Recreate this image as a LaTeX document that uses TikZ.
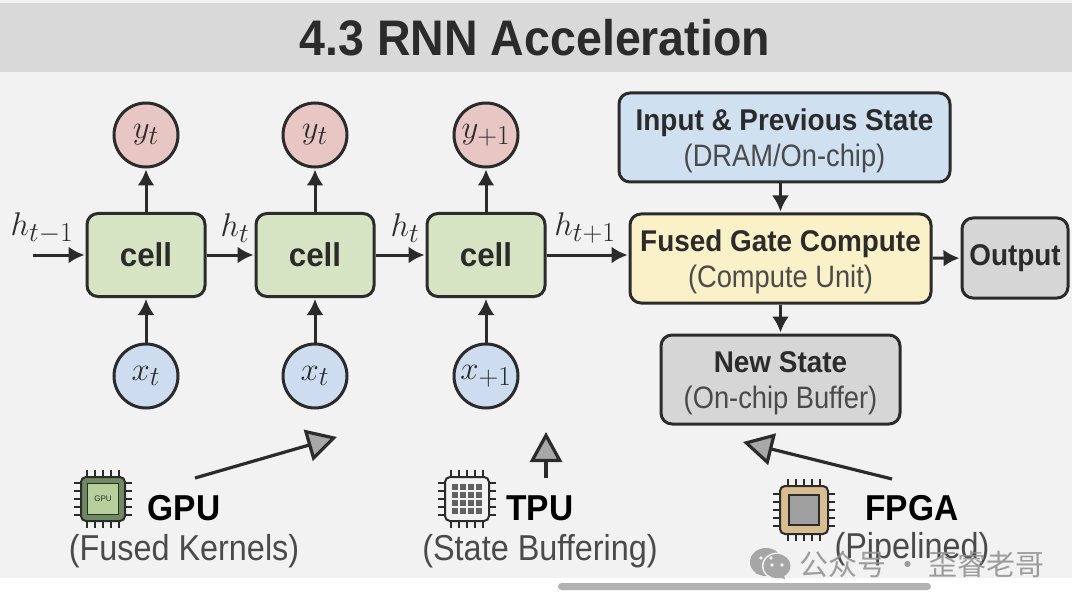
\documentclass[tikz,border=0pt]{standalone}
\usepackage{fontspec}
\setmainfont{Liberation Sans}
\newfontfamily\cjkfont{Noto Sans CJK SC}
\usetikzlibrary{arrows.meta,calc}
\definecolor{panel}{HTML}{F2F2F2}
\definecolor{band}{HTML}{D9D9D9}
\definecolor{ink}{HTML}{2B2B2B}
\definecolor{subink}{HTML}{4A4A4A}
\definecolor{cellfill}{HTML}{D6E4C4}
\definecolor{yfill}{HTML}{E8C6C4}
\definecolor{xfill}{HTML}{CDDDEF}
\definecolor{bluebox}{HTML}{CFE0F0}
\definecolor{yellowbox}{HTML}{FAF1C8}
\definecolor{greybox}{HTML}{D6D6D6}
\definecolor{tipgrey}{HTML}{A8A8A8}
\definecolor{gpuring}{HTML}{6F8A62}
\definecolor{gpucorefill}{HTML}{B7CF9A}
\definecolor{fpgaring}{HTML}{D8BD90}
\newcommand{\bigfont}{\fontsize{30}{36}\selectfont\bfseries\addfontfeature{FakeStretch=0.93}}
\newcommand{\subfont}{\fontsize{31}{36}\selectfont\addfontfeature{FakeStretch=0.88}}
\newcommand{\mth}[1]{\scalebox{1.32}{$#1$}}
\newcommand{\twoline}[2]{\raisebox{-11pt}[0pt][0pt]{\bigfont #1}\\\raisebox{-11pt}[0pt][0pt]{\subfont\color{subink}#2}}
\tikzset{
  x=1pt,y=-1pt,
  box/.style={draw=ink,line width=3pt,rounded corners=11pt,inner sep=0pt,align=center,text=ink,font=\fontsize{30}{36}\selectfont},
  cellbox/.style={box,fill=cellfill,minimum width=118pt,minimum height=83pt,font=\fontsize{33}{36}\selectfont\bfseries\addfontfeature{FakeStretch=0.95}},
  sig/.style={circle,draw=ink,line width=3pt,minimum size=64pt,inner sep=0pt,text=ink,font=\fontsize{30}{32}\selectfont},
  ysig/.style={sig,fill=yfill},
  xsig/.style={sig,fill=xfill},
  flow/.style={draw=ink,line width=3pt,-{Latex[length=16pt,width=17pt]},shorten >=1pt},
  note/.style={draw=ink,line width=3.2pt,-{Triangle[length=30pt,width=32pt,fill=tipgrey]}},
  lab/.style={inner sep=0pt,text=ink,font=\fontsize{30}{32}\selectfont},
  hw/.style={inner sep=0pt,text=black,font=\fontsize{36}{38}\selectfont\bfseries\addfontfeature{FakeStretch=0.93}},
  hwsub/.style={inner sep=0pt,text=subink,font=\fontsize{36}{38}\selectfont\addfontfeature{FakeStretch=0.9}},
}
\newcommand{\chippins}[2]{% centre, half length
  \foreach \d in {-16,-8,0,8,16}{
    \draw[ink,line width=2.2pt] ($(#1)+(\d,-#2)$) -- ($(#1)+(\d,#2)$);
    \draw[ink,line width=2.2pt] ($(#1)+(-#2,\d)$) -- ($(#1)+(#2,\d)$);
  }}
\begin{document}
\begin{tikzpicture}
\useasboundingbox (0,0) rectangle (1080,607);
\fill[white] (0,0) rectangle (1080,607);
\fill[panel] (0,0) rectangle (1072,578);
\fill[band] (0,3) rectangle (1072,72);
\node[inner sep=0pt,text=ink,font=\fontsize{50}{54}\selectfont\bfseries\addfontfeature{FakeStretch=0.93}] (title) at (535,38) {4.3 RNN Acceleration};

% RNN chain
\foreach \n/\cx/\ylab/\xlab in {1/146/y_t/x_t,2/315/y_t/x_t,3/486/y_{+1}/x_{+1}}{
  \node[cellbox] (c\n) at (\cx,255) {cell};
  \node[ysig] (y\n) at (\cx,135) {\mth{\ylab}};
  \node[xsig] (x\n) at (\cx,376) {\mth{\xlab}};
  \draw[flow] (c\n) -- (y\n);
  \draw[flow] (x\n) -- (c\n);
}
\coordinate (hin) at (33,255);
\draw[flow] (hin) -- (c1);
\draw[flow] (c1) -- (c2);
\draw[flow] (c2) -- (c3);
\node[lab] (h0) at (42,228) {\mth{h_{t-1}}};
\node[lab] (h1) at (235,228) {\mth{h_t}};
\node[lab] (h2) at (405,228) {\mth{h_t}};
\node[lab] (h3) at (585,228) {\mth{h_{t+1}}};

% Compute flow
\node[box,fill=bluebox,minimum width=331pt,minimum height=89pt] (input) at (784.5,137.5)
  {\twoline{Input \& Previous State}{(DRAM/On-chip)}};
\node[box,fill=yellowbox,minimum width=301pt,minimum height=89pt] (fused) at (780.5,258.5)
  {\twoline{Fused Gate Compute}{(Compute Unit)}};
\node[box,fill=greybox,minimum width=106pt,minimum height=80pt,font=\bigfont] (output) at (1015,258) {Output};
\node[box,fill=greybox,minimum width=239pt,minimum height=89pt] (newstate) at (780.5,379.5)
  {\twoline{New State}{(On-chip Buffer)}};
\draw[flow] (fused.north |- input.south) -- (fused.north);
\draw[flow] (fused) -- (newstate);
\draw[flow] (fused) -- (output);
\draw[flow] (c3.east) -- (c3.east -| fused.west);

% Hardware labels
\coordinate (gpuA) at (195,478); \coordinate (gpuB) at (337,437);
\coordinate (tpuA) at (546,478); \coordinate (tpuB) at (546,432);
\coordinate (fpgaA) at (892,479); \coordinate (fpgaB) at (743,442);
\draw[note] (gpuA) -- (gpuB);
\draw[note] (tpuA) -- (tpuB);
\draw[note] (fpgaA) -- (fpgaB);

% GPU chip
\coordinate (gpuchip) at (103,499);
\chippins{gpuchip}{29}
\node[draw=ink,line width=2pt,fill=gpuring,rounded corners=5pt,minimum size=44pt,inner sep=0pt] (gpubody) at (gpuchip) {};
\node[draw=ink,line width=1.5pt,fill=gpucorefill,minimum size=31pt,inner sep=0pt,text=ink,font=\fontsize{8}{9}\selectfont] (gpucore) at (gpuchip) {GPU};
\node[hw] (gpu) at (184,508) {GPU};
\node[hwsub] (gpusub) at (184,551) {(Fused Kernels)};

% TPU chip
\coordinate (tpuchip) at (467,499);
\chippins{tpuchip}{29}
\node[draw=ink,line width=2pt,fill=panel,rounded corners=5pt,minimum size=44pt,inner sep=0pt] (tpubody) at (tpuchip) {};
\foreach \i in {-12,-4,4,12}{\foreach \j in {-12,-4,4,12}{
  \fill[ink!75] ($(tpuchip)+(\i,\j)+(-3,-3)$) rectangle ($(tpuchip)+(\i,\j)+(3,3)$);
}}
\node[hw] (tpu) at (540,508) {TPU};
\node[hwsub] (tpusub) at (540,551) {(State Buffering)};

% FPGA chip
\coordinate (fpgachip) at (804,510);
\chippins{fpgachip}{31}
\node[draw=ink,line width=2pt,fill=fpgaring,rounded corners=5pt,minimum size=48pt,inner sep=0pt] (fpgabody) at (fpgachip) {};
\node[draw=ink,line width=2pt,fill=gray!75,minimum size=30pt,inner sep=0pt] (fpgacore) at (fpgachip) {};
\node[hw] (fpga) at (912,508) {FPGA};
\node[hwsub] (fpgasub) at (912,549) {(Pipelined)};

% Watermark
\fill[gray!70] (766,562) ellipse (16pt and 14pt);
\fill[gray!70] (756,574) -- (758,568) -- (764,572) -- cycle;
\fill[panel] (777,566) ellipse (15pt and 13.5pt);
\fill[gray!70] (777,566) ellipse (13.5pt and 12pt);
\fill[gray!70] (785,579) -- (783,572) -- (778,577) -- cycle;
\foreach \p in {761,771}{\fill[panel] (\p,558) circle (1.8pt);}
\foreach \p in {772,782}{\fill[panel] (\p,565) circle (1.8pt);}
\node[inner sep=0pt,text=gray!85,opacity=.9,font=\cjkfont\fontsize{29}{32}\selectfont] (mark) at (922,564) {公众号 · 歪睿老哥};

% Scroll bar
\fill[gray!60,rounded corners=3.5pt] (558,583) rectangle (931,590);
\end{tikzpicture}
\end{document}
